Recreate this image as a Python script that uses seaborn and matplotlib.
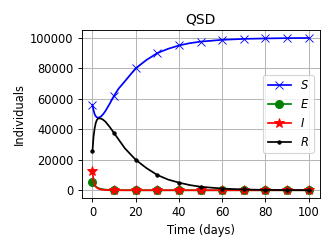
import numpy as np
import matplotlib
matplotlib.use('Agg')
import matplotlib.pyplot as plt
import seaborn as sns

# ── Data ───────────────────────────────────────────────────────────────────────
t = [0, 0.5, 1, 1.5, 2, 2.5, 3, 4, 5, 6, 8, 10, 12, 15, 20, 25, 30, 35, 40,
     45, 50, 60, 70, 80, 90, 100]
S = [56000, 52500, 50000, 48600, 47900, 47600, 47700, 48500, 50000, 52000,
     56800, 62000, 66500, 71500, 80000, 85500, 90000, 92800, 95000, 96500,
     97500, 98700, 99300, 99600, 99800, 99900]
E = [5500, 4200, 3200, 2500, 2000, 1600, 1300, 900, 600, 400, 200, 100, 50,
     20, 0, 0, 0, 0, 0, 0, 0, 0, 0, 0, 0, 0]
I = [12500, 6500, 3800, 2500, 1700, 1200, 900, 500, 300, 200, 80, 30, 10,
     0, 0, 0, 0, 0, 0, 0, 0, 0, 0, 0, 0, 0]
R = [25500, 35000, 40500, 44000, 46000, 46900, 47200, 47000, 46200, 45000,
     41500, 37500, 33500, 27500, 20000, 14500, 10000, 7000, 5000, 3400, 2300,
     1100, 500, 250, 120, 60]

# markers only every 10 days
marks = [v % 10 == 0 for v in t]

fig, ax = plt.subplots(figsize=(4, 3), dpi=83)

styles = [
    (S, '$S$', 'blue',  'x', 7),
    (E, '$E$', 'green', 'o', 7),
    (I, '$I$', 'red',   '*', 9),
    (R, '$R$', 'black', '.', 6),
]
for y, lab, col, mk, ms in styles:
    sns.lineplot(x=t, y=y, ax=ax, color=col, marker=mk, markersize=ms,
                 markevery=marks, label=lab, linewidth=1.5,
                 markeredgecolor=col, markerfacecolor=col)

ax.grid(True, color='#b0b0b0', linewidth=0.8)
ax.set_xticks(range(0, 101, 20))
ax.set_yticks(range(0, 100001, 20000))
ax.set_xlabel('Time (days)')
ax.set_ylabel('Individuals')
ax.set_title('QSD')
ax.legend(loc='center right')

plt.tight_layout()
plt.savefig('out.png', dpi=83)
